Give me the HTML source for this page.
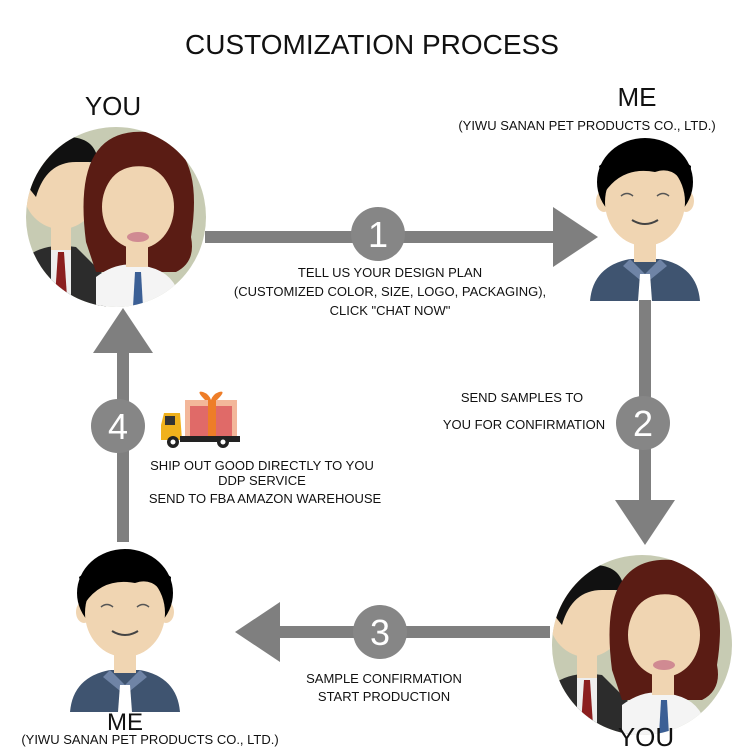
<!DOCTYPE html>
<html><head><meta charset="utf-8"><style>
html,body{margin:0;padding:0;background:#fff;}
svg{display:block;font-family:"Liberation Sans",Arial,sans-serif;}
</style></head><body>
<svg width="750" height="750" viewBox="0 0 750 750" xmlns="http://www.w3.org/2000/svg">
<defs>
<g id="man">
  <path d="M-55,105 Q-52,70 -15,63 L15,63 Q52,70 55,105 Z" fill="#3f5470"/>
  <path d="M-15,63 L0,78 L15,63 L22,70 L0,88 L-22,70 Z" fill="#6f84a6"/>
  <rect x="-11" y="38" width="22" height="28" fill="#f0d5b2"/>
  <path d="M-5,78 L5,78 L7,105 L-7,105 Z" fill="#fff"/>
  <ellipse cx="-41" cy="5" rx="8" ry="11" fill="#f0d5b2"/>
  <ellipse cx="41" cy="5" rx="8" ry="11" fill="#f0d5b2"/>
  <ellipse cx="0" cy="-14" rx="48" ry="44" fill="#000"/>
  <ellipse cx="0" cy="6" rx="40" ry="44" fill="#f0d5b2"/>
  <path d="M-40,-4 Q-22,-30 10,-24 Q32,-32 44,-2 L46,-30 Q0,-64 -46,-30 Z" fill="#000"/>
  <path d="M-24,0 q6,-5 12,0 M12,0 q6,-5 12,0" stroke="#555" stroke-width="1.5" fill="none"/>
  <path d="M-13,24 Q0,32 13,24" stroke="#444" stroke-width="2" fill="none"/>
</g>
<g id="couple">
  <circle cx="0" cy="0" r="90" fill="#c7cbb3"/>
  <clipPath id="cc"><circle cx="0" cy="0" r="90"/></clipPath>
  <g clip-path="url(#cc)">
    <path d="M-100,100 L-90,40 Q-70,25 -40,30 L-10,60 L-10,100 Z" fill="#2c2c2c"/>
    <path d="M-65,30 L-45,30 L-45,90 L-65,90 Z" fill="#eee"/>
    <path d="M-58,35 L-52,35 L-49,80 L-55,88 L-61,80 Z" fill="#8b1e1e"/>
    <rect x="-65" y="5" width="20" height="28" fill="#f0d5b2"/>
    <ellipse cx="-55" cy="-28" rx="38" ry="40" fill="#f0d5b2"/>
    <path d="M-92,-35 Q-90,-85 -45,-80 Q-20,-78 -18,-55 L-40,-55 Q-70,-55 -80,-20 Z" fill="#111"/>
    <path d="M-30,25 Q-45,-90 30,-85 Q90,-75 75,20 Q80,45 60,55 L-20,55 Z" fill="#5a1c14"/>
    <path d="M-20,100 L-20,60 Q0,45 20,48 Q50,50 60,70 L60,100 Z" fill="#f4f4f4"/>
    <rect x="10" y="20" width="22" height="30" fill="#f0d5b2"/>
    <ellipse cx="22" cy="-10" rx="36" ry="42" fill="#f0d5b2"/>
    <path d="M-16,-20 Q0,-60 40,-48 Q50,-40 58,-20 Q50,-55 20,-60 Q-10,-55 -16,-20 Z" fill="#5a1c14"/>
    <ellipse cx="22" cy="20" rx="11" ry="5" fill="#d08a92"/>
    <path d="M19,55 L25,55 L27,90 L22,95 L17,90 Z" fill="#3b5f95"/>
  </g>
</g>
<g id="arrowhead"><path d="M0,-30 L45,0 L0,30 Z" fill="#7f7f7f"/></g>
</defs>

<text x="372" y="54" font-size="28" text-anchor="middle" fill="#111">CUSTOMIZATION PROCESS</text>

<text x="113" y="115" font-size="26" text-anchor="middle" fill="#111">YOU</text>
<use href="#couple" transform="translate(116,217)"/>

<text x="637" y="106" font-size="26" text-anchor="middle" fill="#111">ME</text>
<text x="587" y="130" font-size="13" text-anchor="middle" fill="#111">(YIWU SANAN PET PRODUCTS CO., LTD.)</text>

<rect x="205" y="231" width="352" height="12" fill="#7f7f7f"/>
<use href="#arrowhead" transform="translate(553,237)"/>
<circle cx="378" cy="234" r="27" fill="#868686"/>
<text x="378" y="247" font-size="36" text-anchor="middle" fill="#fff">1</text>
<text x="390" y="277" font-size="13" text-anchor="middle" fill="#111">TELL US YOUR DESIGN PLAN</text>
<text x="390" y="296" font-size="13" text-anchor="middle" fill="#111">(CUSTOMIZED COLOR, SIZE, LOGO, PACKAGING),</text>
<text x="390" y="315" font-size="13" text-anchor="middle" fill="#111">CLICK "CHAT NOW"</text>

<use href="#man" transform="translate(645,196)"/>
<rect x="639" y="300" width="12" height="205" fill="#7f7f7f"/>
<use href="#arrowhead" transform="translate(645,500) rotate(90)"/>
<circle cx="643" cy="423" r="27" fill="#868686"/>
<text x="643" y="436" font-size="36" text-anchor="middle" fill="#fff">2</text>
<text x="522" y="402" font-size="13" text-anchor="middle" fill="#111">SEND SAMPLES TO</text>
<text x="524" y="429" font-size="13" text-anchor="middle" fill="#111">YOU FOR CONFIRMATION</text>

<use href="#couple" transform="translate(642,645)"/>
<text x="646" y="746" font-size="26" text-anchor="middle" fill="#111">YOU</text>

<rect x="275" y="626" width="275" height="12" fill="#7f7f7f"/>
<use href="#arrowhead" transform="translate(280,632) rotate(180)"/>
<circle cx="380" cy="632" r="27" fill="#868686"/>
<text x="380" y="645" font-size="36" text-anchor="middle" fill="#fff">3</text>
<text x="384" y="683" font-size="13" text-anchor="middle" fill="#111">SAMPLE CONFIRMATION</text>
<text x="384" y="701" font-size="13" text-anchor="middle" fill="#111">START PRODUCTION</text>

<use href="#man" transform="translate(125,607)"/>
<rect x="0" y="712" width="260" height="38" fill="#fff"/>
<text x="125" y="730" font-size="24" text-anchor="middle" fill="#111">ME</text>
<text x="150" y="744" font-size="13" text-anchor="middle" fill="#111">(YIWU SANAN PET PRODUCTS CO., LTD.)</text>

<rect x="117" y="350" width="12" height="192" fill="#7f7f7f"/>
<use href="#arrowhead" transform="translate(123,353) rotate(-90)"/>
<circle cx="118" cy="426" r="27" fill="#868686"/>
<text x="118" y="439" font-size="36" text-anchor="middle" fill="#fff">4</text>

<g>
  <rect x="185" y="400" width="52" height="36" fill="#f3b79a"/>
  <rect x="190" y="406" width="42" height="30" fill="#e06a68"/>
  <rect x="208" y="400" width="8" height="36" fill="#ee7d28"/>
  <path d="M205,400 q-10,-10 -2,-8 q6,2 8,8 q2,-6 8,-8 q8,-2 -2,8 Z" fill="#ee7d28"/>
  <path d="M164,413 L180,413 L182,440 L161,440 L161,425 Z" fill="#f0b11c"/>
  <rect x="165" y="416" width="10" height="9" fill="#333"/>
  <rect x="180" y="436" width="60" height="6" fill="#222"/>
  <circle cx="173" cy="442" r="6" fill="#222"/><circle cx="173" cy="442" r="2.5" fill="#fff"/>
  <circle cx="223" cy="442" r="6" fill="#222"/><circle cx="223" cy="442" r="2.5" fill="#fff"/>
</g>
<text x="262" y="470" font-size="13" text-anchor="middle" fill="#111">SHIP OUT GOOD DIRECTLY TO YOU</text>
<text x="262" y="485" font-size="13" text-anchor="middle" fill="#111">DDP SERVICE</text>
<text x="265" y="503" font-size="13" text-anchor="middle" fill="#111">SEND TO FBA AMAZON WAREHOUSE</text>
</svg>
</body></html>
